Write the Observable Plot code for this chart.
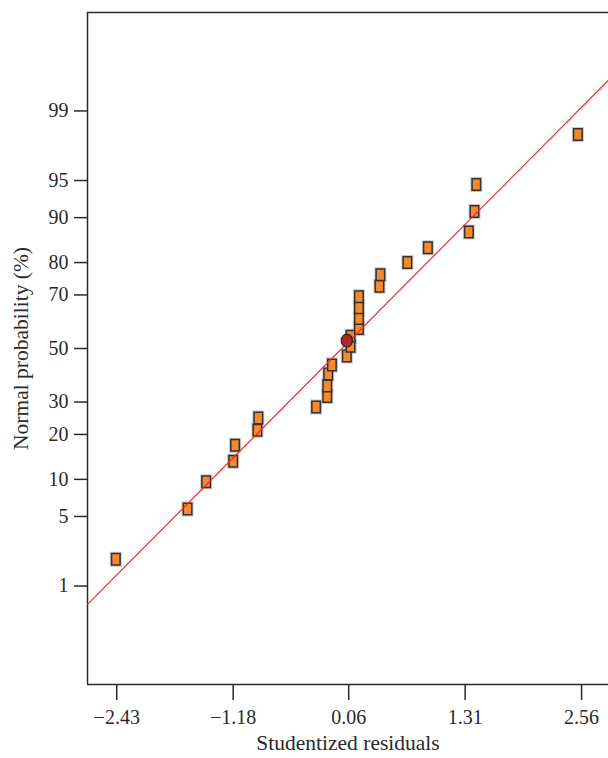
<!DOCTYPE html>
<html>
<head>
<meta charset="utf-8">
<script src="https://cdn.jsdelivr.net/npm/d3@7"></script>
<script src="https://cdn.jsdelivr.net/npm/@observablehq/plot@0.6"></script>
<style>
  body { margin: 0; background: #fff; }
  svg [aria-label^="x-axis"] line, svg [aria-label^="y-axis"] line,
  svg [aria-label^="x-axis"] path, svg [aria-label^="y-axis"] path { stroke-width: 1.5px; }
</style>
</head>
<body>
<div id="chart"></div>
<script>
// ---- data ----
const xTickValues = [-2.43, -1.18, 0.06, 1.31, 2.56];
const probTicks = [1, 5, 10, 20, 30, 50, 70, 80, 90, 95, 99];
const xDomain = [-2.744, 2.849];
const yDomainPct = [0.05, 99.95];

const residuals = [-2.44, -1.67, -1.47, -1.18, -1.16, -0.92, -0.91, -0.29, -0.17, -0.17, -0.16, -0.12, 0.04, 0.08, 0.08, 0.17, 0.17, 0.17, 0.17, 0.39, 0.40, 0.69, 0.91, 1.35, 1.41, 1.43, 2.52];
const probabilities = [1.95, 5.8, 9.6, 13.5, 17.2, 21.2, 24.8, 28.3, 31.9, 35.7, 40.1, 43.6, 47.1, 50.9, 54.8, 57.8, 61.6, 65.5, 69.4, 72.9, 76.5, 80.0, 83.8, 87.3, 91.0, 94.6, 98.2];

const highlightResidual = [0.04];
const highlightProb = [53.1];

const fitIntercept = 0.013;
const fitSlope = 0.918;

// ---- helpers ----
function probit(p) {
  const a = [-3.969683028665376e+01, 2.209460984245205e+02, -2.759285104469687e+02, 1.383577518672690e+02, -3.066479806614716e+01, 2.506628277459239e+00];
  const b = [-5.447609879822406e+01, 1.615858368580409e+02, -1.556989798598866e+02, 6.680131188771972e+01, -1.328068155288572e+01];
  const c = [-7.784894002430293e-03, -3.223964580411365e-01, -2.400758277161838e+00, -2.549732539343734e+00, 4.374664141464968e+00, 2.938163982698783e+00];
  const d = [7.784695709041462e-03, 3.224671290700398e-01, 2.445134137142996e+00, 3.754408661907416e+00];
  const pl = 0.02425, ph = 1 - pl;
  let q, r;
  if (p < pl) {
    q = Math.sqrt(-2 * Math.log(p));
    return (((((c[0]*q+c[1])*q+c[2])*q+c[3])*q+c[4])*q+c[5]) / ((((d[0]*q+d[1])*q+d[2])*q+d[3])*q+1);
  }
  if (p <= ph) {
    q = p - 0.5; r = q * q;
    return (((((a[0]*r+a[1])*r+a[2])*r+a[3])*r+a[4])*r+a[5])*q / (((((b[0]*r+b[1])*r+b[2])*r+b[3])*r+b[4])*r+1);
  }
  q = Math.sqrt(-2 * Math.log(1 - p));
  return -(((((c[0]*q+c[1])*q+c[2])*q+c[3])*q+c[4])*q+c[5]) / ((((d[0]*q+d[1])*q+d[2])*q+d[3])*q+1);
}
const z = pct => probit(pct / 100);

const points = residuals.map((r, i) => ({x: r, y: z(probabilities[i])}));
const highlight = highlightResidual.map((r, i) => ({x: r, y: z(highlightProb[i])}));
const fitLine = xDomain.map(x => ({x, y: fitIntercept + fitSlope * x}));
const yTicks = probTicks.map(z);
const yLabel = new Map(yTicks.map((t, i) => [t, String(probTicks[i])]));
const yDom = yDomainPct.map(z);

const rectSymbol = {
  draw(ctx) {
    const w = 8.5, h = 11.5;
    ctx.moveTo(-w/2, -h/2); ctx.lineTo(w/2, -h/2); ctx.lineTo(w/2, h/2); ctx.lineTo(-w/2, h/2); ctx.closePath();
  }
};
const ellipseSymbol = {
  draw(ctx) {
    const rx = 5.6, ry = 6.5, k = 0.5523;
    ctx.moveTo(rx, 0);
    ctx.bezierCurveTo(rx, ry*k, rx*k, ry, 0, ry);
    ctx.bezierCurveTo(-rx*k, ry, -rx, ry*k, -rx, 0);
    ctx.bezierCurveTo(-rx, -ry*k, -rx*k, -ry, 0, -ry);
    ctx.bezierCurveTo(rx*k, -ry, rx, -ry*k, rx, 0);
    ctx.closePath();
  }
};

const chart = Plot.plot({
  width: 608,
  height: 758,
  marginTop: 12,
  marginBottom: 74,
  marginLeft: 87,
  marginRight: 0,
  style: {fontFamily: "'Liberation Serif', 'DejaVu Serif', serif", fontSize: "20px", color: "#2a2a2a", background: "#fff"},
  x: {domain: xDomain, ticks: xTickValues, tickFormat: d3.format(".2f"), tickSize: 16, tickPadding: 9, label: null},
  y: {domain: yDom, ticks: yTicks, tickFormat: d => yLabel.get(d), tickSize: 13, tickPadding: 6, label: null},
  marks: [
    Plot.ruleY([yDom[1]], {stroke: "#2a2a2a", strokeWidth: 1.5}),
    Plot.ruleY([yDom[0]], {stroke: "#2a2a2a", strokeWidth: 1.5}),
    Plot.ruleX([xDomain[0]], {stroke: "#2a2a2a", strokeWidth: 1.5}),
    Plot.dot(points, {x: "x", y: "y", symbol: rectSymbol, r: 5, fill: "none", stroke: "#999", strokeOpacity: 0.55, strokeWidth: 3.5}),
    Plot.dot(points, {x: "x", y: "y", symbol: rectSymbol, r: 5, fill: "#f5892b", stroke: "#333", strokeWidth: 1.5}),
    Plot.line(fitLine, {x: "x", y: "y", stroke: "#ee2a2a", strokeWidth: 1.2}),
    Plot.dot(highlight, {x: "x", y: "y", symbol: ellipseSymbol, r: 5, fill: "#b3232a", stroke: "#3a2222", strokeWidth: 1.3}),
    Plot.text(["Studentized residuals"], {text: d => d, frameAnchor: "bottom", dy: 65, fontSize: 21.5}),
    Plot.text(["Normal probability (%)"], {text: d => d, frameAnchor: "left", textAnchor: "middle", dx: -66, rotate: -90, fontSize: 21.5})
  ]
});
document.getElementById("chart").appendChild(chart);
</script>
</body>
</html>
